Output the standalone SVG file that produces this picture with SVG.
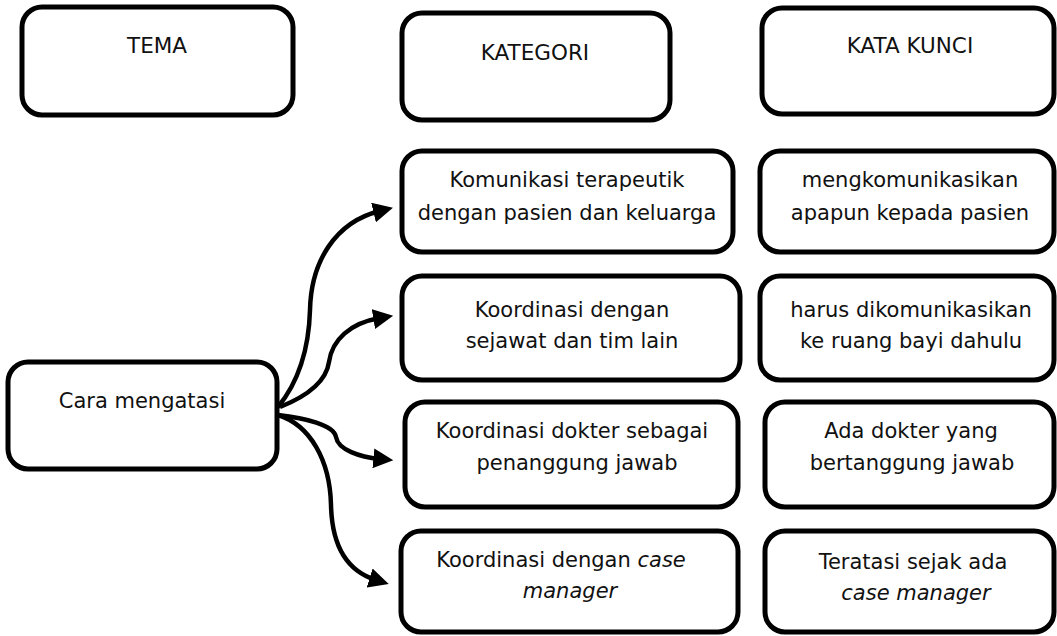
<svg xmlns="http://www.w3.org/2000/svg" width="1057" height="636" viewBox="0 0 1057 636">
<style>
.box{fill:#fff;stroke:#000;stroke-width:5}
.t{font-family:"DejaVu Sans",Verdana,sans-serif;font-size:21.5px;fill:#111;text-anchor:middle}
.b{font-size:21px}
.i{font-style:italic}
.c{fill:none;stroke:#000;stroke-width:4.5}
</style>
<defs>
<marker id="ah" markerUnits="userSpaceOnUse" markerWidth="20" markerHeight="20" viewBox="0 0 18 18" refX="6" refY="9" orient="auto">
<path d="M0,0 L18,9 L0,18 z" fill="#000"/>
</marker>
</defs>
<rect width="1057" height="636" fill="#fff"/>
<g id="connectors">
<path class="c" marker-end="url(#ah)" d="M278 407 C300 380 309 345 310 310 C311 262 335 222 380 211"/>
<path class="c" marker-end="url(#ah)" d="M280 407 C305 397 326 383 329 362 C332 340 350 323 380 318"/>
<path class="c" marker-end="url(#ah)" d="M278 415 C305 418 334 425 336 437 C338 450 360 457 380 459"/>
<path class="c" marker-end="url(#ah)" d="M278 415 C310 425 330 460 331 505 C332 550 350 572 376 580"/>
</g>
<g id="tema"><rect class="box" x="22" y="7" width="271" height="108" rx="20"/><text class="t" x="157" y="53">TEMA</text></g>
<g id="kategori"><rect class="box" x="402" y="13" width="268" height="107" rx="20"/><text class="t" x="535" y="60">KATEGORI</text></g>
<g id="katakunci"><rect class="box" x="762" y="8" width="292" height="106" rx="20"/><text class="t" x="910" y="53">KATA KUNCI</text></g>
<g id="cara"><rect class="box" x="8" y="362" width="269" height="107" rx="20"/><text class="t b" x="142" y="408">Cara mengatasi</text></g>
<g id="k1"><rect class="box" x="402" y="151" width="331" height="101" rx="20"/><text class="t b" x="567" y="187">Komunikasi terapeutik</text><text class="t b" x="567" y="220">dengan pasien dan keluarga</text></g>
<g id="kk1"><rect class="box" x="760" y="151" width="294" height="101" rx="20"/><text class="t b" x="910" y="187">mengkomunikasikan</text><text class="t b" x="910" y="220">apapun kepada pasien</text></g>
<g id="k2"><rect class="box" x="402" y="276" width="338" height="104" rx="20"/><text class="t b" x="572" y="317">Koordinasi dengan</text><text class="t b" x="572" y="348">sejawat dan tim lain</text></g>
<g id="kk2"><rect class="box" x="760" y="276" width="294" height="104" rx="20"/><text class="t b" x="911" y="317">harus dikomunikasikan</text><text class="t b" x="911" y="348">ke ruang bayi dahulu</text></g>
<g id="k3"><rect class="box" x="405" y="402" width="333" height="105" rx="20"/><text class="t b" x="572" y="438">Koordinasi dokter sebagai</text><text class="t b" x="577" y="470">penanggung jawab</text></g>
<g id="kk3"><rect class="box" x="765" y="402" width="289" height="105" rx="20"/><text class="t b" x="911" y="438">Ada dokter yang</text><text class="t b" x="912" y="470">bertanggung jawab</text></g>
<g id="k4"><rect class="box" x="401" y="531" width="337" height="101" rx="20"/><text class="t b" x="561" y="567">Koordinasi dengan <tspan class="i">case</tspan></text><text class="t b i" x="570" y="598">manager</text></g>
<g id="kk4"><rect class="box" x="765" y="531" width="289" height="101" rx="20"/><text class="t b" x="913" y="569">Teratasi sejak ada</text><text class="t b i" x="916" y="600">case manager</text></g>
</svg>
